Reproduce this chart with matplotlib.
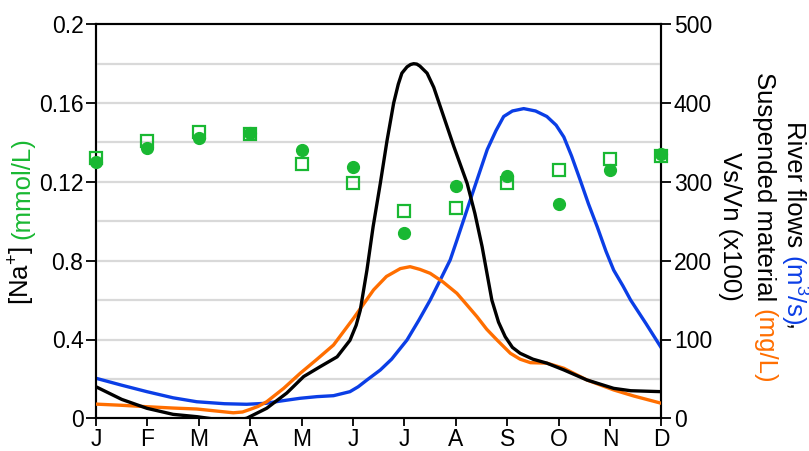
import matplotlib
matplotlib.use('Agg')
import matplotlib.pyplot as plt

plt.rcParams['font.family'] = ['Liberation Sans', 'DejaVu Sans']
plt.rcParams['mathtext.fontset'] = 'custom'
plt.rcParams['mathtext.rm'] = 'Liberation Sans'
plt.rcParams['mathtext.it'] = 'Liberation Sans:italic'
plt.rcParams['mathtext.bf'] = 'Liberation Sans:bold'
plt.rcParams['mathtext.default'] = 'regular'

# ---------------- data ----------------
months = ['J', 'F', 'M', 'A', 'M', 'J', 'J', 'A', 'S', 'O', 'N', 'D']
month_pos = list(range(12))

na_circle = [0.130, 0.137, 0.1425, 0.145, 0.136, 0.1275, 0.094, 0.118, 0.123, 0.109, 0.126, 0.134]
na_square = [0.132, 0.141, 0.1455, 0.1445, 0.129, 0.1195, 0.105, 0.107, 0.1195, 0.126, 0.1315, 0.133]

left_ticks = [0, 0.04, 0.08, 0.12, 0.16, 0.2]
left_ticklabels = ['0', '0.4', '0.8', '0.12', '0.16', '0.2']
right_ticks = [0, 100, 200, 300, 400, 500]
grid_levels = [50, 100, 150, 200, 250, 300, 350, 400, 450]

vsvn_m = [0, 0.5, 0.99, 1.5, 1.97, 2.3, 2.61, 2.93, 3.32, 3.71, 4.04, 4.36, 4.69, 4.94,
          5.06, 5.14, 5.27, 5.39, 5.53, 5.66, 5.79, 5.88, 5.95, 6.05, 6.12, 6.18, 6.24,
          6.3, 6.44, 6.57, 6.70, 6.96, 7.22, 7.37, 7.51, 7.70, 7.83, 7.96, 8.1, 8.25,
          8.5, 8.77, 9.10, 9.55, 10.07, 10.40, 11]
vsvn_v = [40, 24, 12.7, 5, 2, -1, -3.4, 0, 12.7, 32, 53, 65.5, 78, 99,
          118, 137, 188, 243, 298, 352, 400, 424, 438, 446, 449, 450, 449.5,
          447, 438, 420, 395, 345, 298, 260, 218, 150, 122, 103.5, 90, 82.5,
          75, 70, 61.4, 48.6, 38, 35, 33.8]

susp_m = [0, 0.5, 0.99, 1.5, 1.96, 2.3, 2.67, 2.85, 3.0, 3.15, 3.32, 3.65, 3.97, 4.3,
          4.62, 5.01, 5.40, 5.65, 5.92, 6.11, 6.30, 6.50, 6.75, 7.02, 7.2, 7.41, 7.6,
          7.80, 8.06, 8.25, 8.45, 8.77, 9.10, 9.55, 10.07, 10.46, 11]
susp_v = [18, 16.5, 14.7, 13, 11.8, 9.5, 7, 8, 11.4, 15, 21, 38, 57, 75,
          93, 127, 163, 180, 190, 192.4, 189, 184, 173, 158.6, 145, 129, 113,
          99.4, 82.5, 75, 70.6, 70, 63.5, 48.6, 36, 28.3, 19]

flow_m = [0, 0.5, 0.99, 1.5, 1.96, 2.5, 2.93, 3.3, 3.6, 3.97, 4.3, 4.62, 4.94, 5.1,
          5.27, 5.53, 5.75, 6.05, 6.28, 6.50, 6.70, 6.89, 7.02, 7.28, 7.45, 7.61,
          7.78, 7.93, 8.1, 8.32, 8.55, 8.77, 8.95, 9.10, 9.25, 9.42, 9.58, 9.75,
          9.92, 10.07, 10.25, 10.40, 10.7, 11]
flow_v = [50.8, 42, 33.8, 26, 21, 18.5, 17.8, 19, 22, 25.4, 27.5, 28.7, 33.8, 40,
          48.6, 61.3, 75, 99.4, 124.5, 150, 176, 201, 226, 277, 310, 341,
          365, 383, 390, 393, 390, 383, 372, 357, 333, 302, 272, 243,
          212, 188, 168, 150, 120, 89]

GREEN = '#19b832'
BLUE = '#0b3ee6'
ORANGE = '#ff6e00'
BLACK = '#000000'
GRID = '#d9d9d9'

W, H = 809, 451
fig = plt.figure(figsize=(W / 100, H / 100), dpi=100)
ax = fig.add_axes([96 / W, 1 - 418.3 / H, (661.5 - 96) / W, (418.3 - 24.3) / H])
ax2 = ax.twinx()

ax.set_xlim(0, 11)
ax.set_ylim(0, 0.2)
ax2.set_ylim(0, 500)

for g in grid_levels:
    ax2.axhline(g, color=GRID, lw=1.6, zorder=0)

ax2.plot(flow_m, flow_v, color=BLUE, lw=2.4, solid_joinstyle='round', zorder=2)
ax2.plot(susp_m, susp_v, color=ORANGE, lw=2.4, solid_joinstyle='round', zorder=3)
ax2.plot(vsvn_m, vsvn_v, color=BLACK, lw=2.4, solid_joinstyle='round', zorder=4)

ax2.plot(month_pos, na_circle, linestyle='none', marker='o', ms=8.5, color=GREEN,
         mec=GREEN, clip_on=False, zorder=5, transform=ax.transData)
ax2.plot(month_pos, na_square, linestyle='none', marker='s', ms=8.3, mfc='none',
         mec=GREEN, mew=1.6, clip_on=False, zorder=6, transform=ax.transData)

TICK_FS = 16.5
LABEL_FS = 18.5

ax.set_xticks(month_pos)
ax.set_xticklabels(months)
ax.set_yticks(left_ticks)
ax.set_yticklabels(left_ticklabels)
ax2.set_yticks(right_ticks)
ax2.set_yticklabels([str(t) for t in right_ticks])

for a in (ax, ax2):
    for s in a.spines.values():
        s.set_linewidth(1.5)
    a.tick_params(direction='out', width=1.3, labelsize=TICK_FS, colors='black')
ax.tick_params(axis='y', length=7, pad=2)
ax.tick_params(axis='x', length=6, pad=1)
ax2.tick_params(axis='y', length=7, pad=2)
ax.set_facecolor('none')
ax2.patch.set_visible(False)


def multicolor(pieces, x_px, yc_px, rotation):
    """pieces: list of (text, color, gap_before)"""
    renderer = fig.canvas.get_renderer()
    sp = fig.text(0, 0, 'a a', fontsize=LABEL_FS)
    nsp = fig.text(0, 0, 'aa', fontsize=LABEL_FS)
    gap = sp.get_window_extent(renderer).width - nsp.get_window_extent(renderer).width
    sp.remove()
    nsp.remove()
    texts = []
    lengths = []
    for s, c, g in pieces:
        t = fig.text(0, 0, s, color=c, fontsize=LABEL_FS, rotation=rotation,
                     rotation_mode='anchor', ha='left', va='center')
        texts.append(t)
        lengths.append(t.get_window_extent(renderer).height)
    total = sum(lengths) + sum(gap for _, _, g in pieces if g)
    yc = H - yc_px
    if rotation == 270:
        pos = yc + total / 2
        for t, L, (s, c, g) in zip(texts, lengths, pieces):
            if g:
                pos -= gap
            t.set_position((x_px / W, pos / H))
            pos -= L
    else:
        pos = yc - total / 2
        for t, L, (s, c, g) in zip(texts, lengths, pieces):
            if g:
                pos += gap
            t.set_position((x_px / W, pos / H))
            pos += L


fig.canvas.draw()
multicolor([('[Na$^{+}$]', BLACK, False), ('(mmol/L)', GREEN, True)], 22, 221, 90)
multicolor([('River flows', BLACK, False), ('(m$^{3}$/s)', BLUE, True), (',', BLACK, False)],
           794, 226, 270)
multicolor([('Suspended material', BLACK, False), ('(mg/L)', ORANGE, True)], 764, 228, 270)
multicolor([('Vs/Vn (x100)', BLACK, False)], 730, 226, 270)

fig.savefig('out.png', dpi=100)
